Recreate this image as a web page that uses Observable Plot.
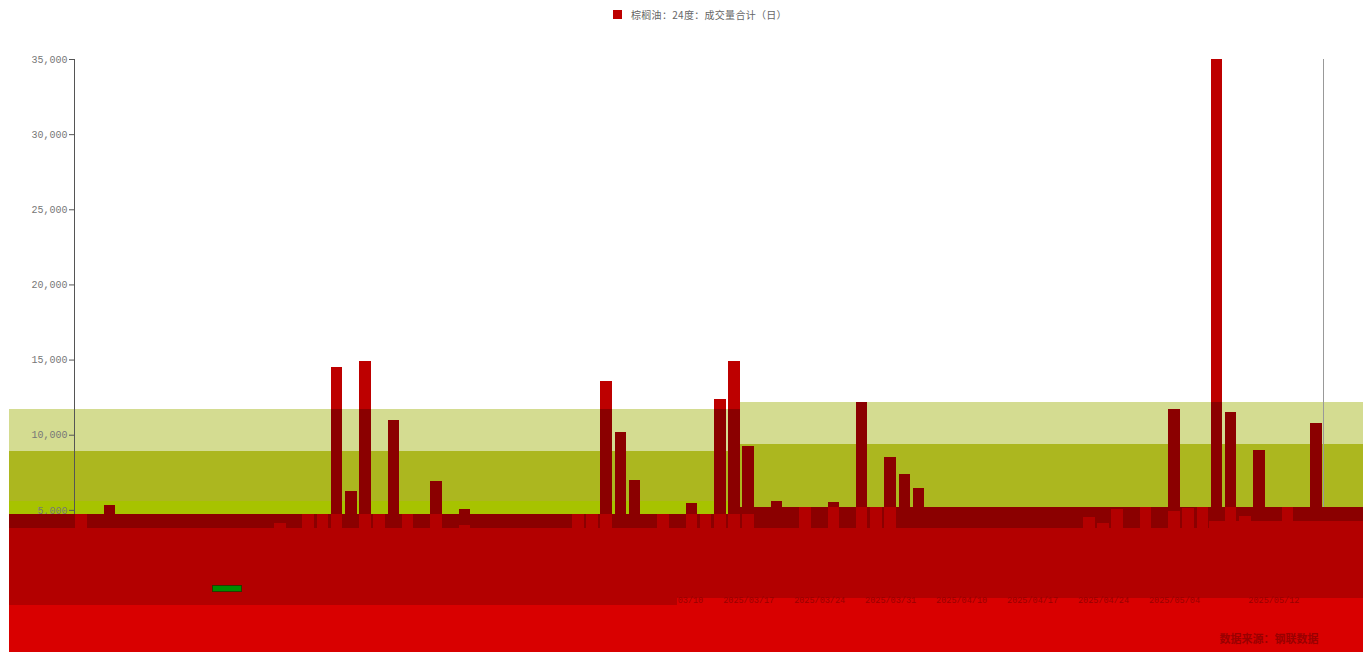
<!DOCTYPE html>
<html><head><meta charset="utf-8">
<script src="https://cdn.jsdelivr.net/npm/d3@7"></script>
<script src="https://cdn.jsdelivr.net/npm/@observablehq/plot@0.6"></script>
<style>
body{margin:0;background:#fff;overflow:hidden;width:1363px;height:652px;position:relative}
#legend{position:absolute;top:8px;left:613px;height:13px;display:flex;align-items:center;gap:9px;font-family:"Noto Sans CJK SC";font-size:10px;line-height:13px;color:#666;z-index:2;letter-spacing:0.3px}
#legend i{display:inline-block;width:9px;height:9px;background:#bd0000}
</style></head>
<body>
<div id="legend"><i></i><span>棕榈油：24度：成交量合计（日）</span></div>
<div id="chart"></div>
<script>
// ---- data ----
const seriesName = "棕榈油：24度：成交量合计（日）";
const sourceText = "数据来源：钢联数据";
const dates = [
 "2025/01/02","2025/01/03","2025/01/06","2025/01/07","2025/01/08","2025/01/09","2025/01/10","2025/01/13","2025/01/14","2025/01/15",
 "2025/01/16","2025/01/17","2025/01/20","2025/01/21","2025/01/22","2025/01/23","2025/01/24","2025/01/26","2025/01/27","2025/02/05",
 "2025/02/06","2025/02/07","2025/02/10","2025/02/11","2025/02/12","2025/02/13","2025/02/14","2025/02/17","2025/02/18","2025/02/19",
 "2025/02/20","2025/02/21","2025/02/24","2025/02/25","2025/02/26","2025/02/27","2025/02/28","2025/03/03","2025/03/04","2025/03/05",
 "2025/03/06","2025/03/07","2025/03/10","2025/03/11","2025/03/12","2025/03/13","2025/03/14","2025/03/17","2025/03/18","2025/03/19",
 "2025/03/20","2025/03/21","2025/03/24","2025/03/25","2025/03/26","2025/03/27","2025/03/28","2025/03/31","2025/04/01","2025/04/02",
 "2025/04/07","2025/04/09","2025/04/10","2025/04/11","2025/04/14","2025/04/15","2025/04/16","2025/04/17","2025/04/18","2025/04/21",
 "2025/04/22","2025/04/23","2025/04/24","2025/04/25","2025/04/28","2025/04/29","2025/04/30","2025/05/04","2025/05/06","2025/05/07",
 "2025/05/08","2025/05/09","2025/05/10","2025/05/11","2025/05/12","2025/05/13","2025/05/14","2025/05/15"
];
const volume = [
 3900,3200,5330,2900,3100,2600,3400,2800,3000,2700,
 3300,2500,3100,2900,3600,3000,4300,4400,14510,6285,
 14910,4200,10990,4300,3500,6900,3200,5070,3000,2800,
 3300,2600,3100,2900,3400,4500,4400,13580,10190,6990,
 3600,4300,3300,5450,4200,12380,14910,9240,5090,5580,
 3800,4900,3500,5490,3700,12180,4800,8500,7400,6480,
 3600,3200,3900,3400,3700,3100,3500,3300,3800,3000,
 3600,4400,4000,4900,3500,4800,3600,11700,4700,4900,
 35000,11500,4500,9000,3600,4800,3900,10790
];
// segments showing through the dark strip
const lowerLayer = [
 4711,null,null,null,null,null,null,null,null,null,
 null,null,null,null,4105,null,4711,4711,4711,null,
 4711,4711,null,4711,null,4711,null,3992,null,null,
 null,null,null,null,null,4711,4711,4711,null,null,
 null,4711,null,4711,4711,4711,4711,4711,null,null,
 null,5170,null,5170,null,5170,5170,5170,null,null,
 null,null,null,null,null,null,null,null,null,null,
 null,4505,4105,5057,null,5170,null,4944,5100,5170,
 null,5170,4591,null,null,5170,null,null
];
const yTicks = [5000,10000,15000,20000,25000,30000,35000];
const xTickIdx = [2,7,12,17,22,27,32,37,42,47,52,57,62,67,72,77,84];
// background zones (category index range, value range)
const zones = [
 {kind:"oliveLight", from:-5.1, to:46.42, lo:8916, hi:11711},
 {kind:"oliveLight", from:46.42, to:90.3, lo:9382, hi:12177},
 {kind:"oliveMid", from:-5.1, to:46.42, lo:5589, hi:8916},
 {kind:"oliveMid", from:46.42, to:90.3, lo:5170, hi:9382},
 {kind:"oliveLime", from:-5.1, to:46.42, lo:4711, hi:5589},
 {kind:"darkBand", from:-5.1, to:46.42, lo:3773, hi:4711},
 {kind:"darkBand", from:46.42, to:79.47, lo:3773, hi:5170},
 {kind:"darkBand", from:79.47, to:90.3, lo:4258, hi:5170},
 {kind:"redBand", from:-5.1, to:41.99, lo:-1331, hi:3773},
 {kind:"redBand", from:41.99, to:79.47, lo:-865, hi:3773},
 {kind:"redBand", from:79.47, to:90.3, lo:-865, hi:4258},
 {kind:"brightBand", from:-5.1, to:41.99, lo:-4458, hi:-1331},
 {kind:"brightBand", from:41.99, to:90.3, lo:-4458, hi:-865}
];
const artifacts = [{from:9.29, to:11.27, lo:-400, hi:0}];

// ---- build ----
const rows = dates.map((d, i) => ({i, date: d, v: volume[i], lower: lowerLayer[i]}));
const oliveTop = i => zones.find(z => z.kind === "oliveLight" && i >= z.from && i < z.to).hi;
const colors = {oliveLight:"#d4dc91", oliveMid:"#acb71f", oliveLime:"#a7c300", darkBand:"#8b0000", redBand:"#b30000", brightBand:"#d90000"};
const crisp = {shapeRendering: "crispEdges"};
const zoneMark = (kind, f = () => true) => Plot.rect(zones.filter(z => z.kind === kind && f(z)), {x1:"from", x2:"to", y1:"lo", y2:"hi", fill: colors[kind], ...crisp});
const half = 0.405;
const mono = "Liberation Mono, DejaVu Sans Mono, monospace";

const chart = Plot.plot({
  width: 1363, height: 652,
  marginLeft: 74, marginRight: 40, marginTop: 59, marginBottom: 67,
  x: {type: "linear", domain: [-0.5, 87.5]},
  y: {domain: [0, 35000]},
  style: {background: "white", fontFamily: "Noto Sans CJK SC"},
  marks: [
    zoneMark("oliveLight"), zoneMark("oliveMid"), zoneMark("oliveLime"),
    Plot.rect(rows, {x1: d => d.i - half, x2: d => d.i + half, y1: 0, y2: "v", fill: "#bd0000", ...crisp}),
    Plot.rect(rows, {x1: d => d.i - half, x2: d => d.i + half, y1: 0, y2: d => Math.min(d.v, oliveTop(d.i)), fill: "#8b0000", ...crisp}),
    Plot.ruleX([-0.5], {y1: 0, y2: 35000, stroke: "#555", ...crisp}),
    Plot.ruleX([87.5], {y1: 0, y2: 35000, stroke: "#999", ...crisp}),
    Plot.axisY({ticks: yTicks, tickFormat: d3.format(","), tickSize: 5, tickPadding: 2, stroke: "#555", fill: "#777", fontSize: 10, fontFamily: mono}),
    zoneMark("darkBand"),
    Plot.rect(rows.filter(d => d.lower != null), {x1: d => d.i - half, x2: d => d.i + half, y1: 0, y2: "lower", fill: "#b30000", ...crisp}),
    zoneMark("redBand", z => z.from > 0),
    zoneMark("brightBand"),
    Plot.axisX({ticks: xTickIdx, tickFormat: i => dates[i], tickSize: 0, tickPadding: 11, fill: "#970000", fontSize: 8.5, fontFamily: mono}),
    zoneMark("redBand", z => z.from < 0),
    Plot.rect(artifacts, {x1:"from", x2:"to", y1:"lo", y2:"hi", fill: "#008c00", stroke: "#2a3a00", ...crisp}),
    Plot.text([sourceText], {frameAnchor: "bottom-right", dx: -5, dy: 57, textAnchor: "end", fill: "#990000", fontSize: 11, fontWeight: "bold", fontFamily: "Noto Sans CJK SC"})
  ]
});
document.getElementById("chart").appendChild(chart);
</script>
</body></html>
